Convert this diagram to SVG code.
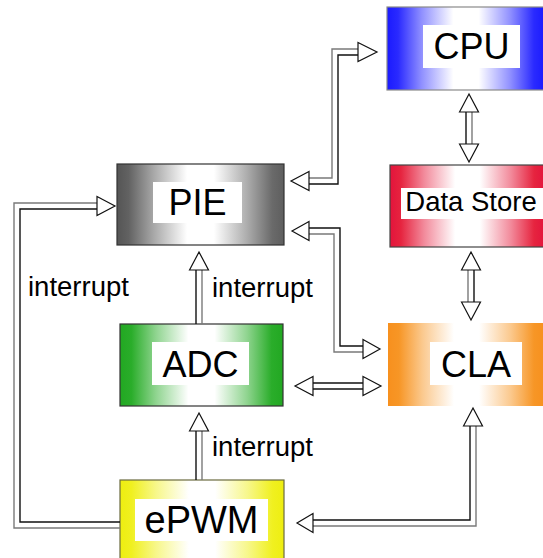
<svg xmlns="http://www.w3.org/2000/svg" width="543" height="558" viewBox="0 0 543 558">
  <style>
    .lbl { fill: #ffffff; }
    .txt { font-family: "Liberation Sans", Arial, sans-serif; fill: #000000; text-anchor: middle; }
    .big { font-size: 36px; }
    .note { font-family: "Liberation Sans", Arial, sans-serif; font-size: 27.5px; fill: #000000; }
    .ld { fill: none; stroke: #111111; stroke-width: 1.4; }
    .lg { fill: none; stroke: #7a7a7a; stroke-width: 1.4; }
    .head { fill: #ffffff; stroke: #111111; stroke-width: 1.2; stroke-linejoin: miter; }
  </style>
  <defs>
    <linearGradient id="gBlue" x1="0" y1="0" x2="1" y2="0">
      <stop offset="0" stop-color="#1a1aff"/>
      <stop offset="0.07" stop-color="#2a2aff"/>
      <stop offset="0.22" stop-color="#9090ff"/>
      <stop offset="0.42" stop-color="#ffffff"/>
      <stop offset="0.58" stop-color="#ffffff"/>
      <stop offset="0.78" stop-color="#9090ff"/>
      <stop offset="0.93" stop-color="#2a2aff"/>
      <stop offset="1" stop-color="#1a1aff"/>
    </linearGradient>
    <linearGradient id="gGray" x1="0" y1="0" x2="1" y2="0">
      <stop offset="0" stop-color="#555555"/>
      <stop offset="0.07" stop-color="#626262"/>
      <stop offset="0.22" stop-color="#a8a8a8"/>
      <stop offset="0.42" stop-color="#ffffff"/>
      <stop offset="0.58" stop-color="#ffffff"/>
      <stop offset="0.78" stop-color="#acacac"/>
      <stop offset="0.93" stop-color="#6a6a6a"/>
      <stop offset="1" stop-color="#5e5e5e"/>
    </linearGradient>
    <linearGradient id="gRed" x1="0" y1="0" x2="1" y2="0">
      <stop offset="0" stop-color="#e3143c"/>
      <stop offset="0.07" stop-color="#e6243f"/>
      <stop offset="0.22" stop-color="#f28a9b"/>
      <stop offset="0.42" stop-color="#ffffff"/>
      <stop offset="0.58" stop-color="#ffffff"/>
      <stop offset="0.78" stop-color="#f28a9b"/>
      <stop offset="0.93" stop-color="#e6243f"/>
      <stop offset="1" stop-color="#e3143c"/>
    </linearGradient>
    <linearGradient id="gGreen" x1="0" y1="0" x2="1" y2="0">
      <stop offset="0" stop-color="#22a822"/>
      <stop offset="0.07" stop-color="#2aad2a"/>
      <stop offset="0.22" stop-color="#8fd48f"/>
      <stop offset="0.42" stop-color="#ffffff"/>
      <stop offset="0.58" stop-color="#ffffff"/>
      <stop offset="0.78" stop-color="#8fd48f"/>
      <stop offset="0.93" stop-color="#2aad2a"/>
      <stop offset="1" stop-color="#22a822"/>
    </linearGradient>
    <linearGradient id="gOrange" x1="0" y1="0" x2="1" y2="0">
      <stop offset="0" stop-color="#f7901e"/>
      <stop offset="0.07" stop-color="#f79626"/>
      <stop offset="0.22" stop-color="#fbc98e"/>
      <stop offset="0.42" stop-color="#ffffff"/>
      <stop offset="0.58" stop-color="#ffffff"/>
      <stop offset="0.78" stop-color="#fbc98e"/>
      <stop offset="0.93" stop-color="#f79626"/>
      <stop offset="1" stop-color="#f7901e"/>
    </linearGradient>
    <linearGradient id="gYellow" x1="0" y1="0" x2="1" y2="0">
      <stop offset="0" stop-color="#eeee10"/>
      <stop offset="0.07" stop-color="#f0f020"/>
      <stop offset="0.22" stop-color="#f7f78a"/>
      <stop offset="0.42" stop-color="#ffffff"/>
      <stop offset="0.58" stop-color="#ffffff"/>
      <stop offset="0.78" stop-color="#f7f78a"/>
      <stop offset="0.93" stop-color="#f0f020"/>
      <stop offset="1" stop-color="#eeee10"/>
    </linearGradient>
  </defs>

  <rect width="543" height="558" fill="#ffffff"/>

  <!-- blocks -->
  <g id="cpu">
    <rect x="387" y="7" width="158" height="83" fill="url(#gBlue)" stroke="#8a8a8a" stroke-width="1.2"/>
    <rect class="lbl" x="423" y="25" width="97" height="43"/>
    <text class="txt big" x="471.5" y="59">CPU</text>
  </g>
  <g id="pie">
    <rect x="117" y="164" width="167" height="81" fill="url(#gGray)" stroke="#333333" stroke-width="1.2"/>
    <rect class="lbl" x="153" y="182" width="89" height="41"/>
    <text class="txt big" x="197.5" y="215">PIE</text>
  </g>
  <g id="data-store">
    <rect x="390" y="165" width="155" height="82" fill="url(#gRed)" stroke="#444444" stroke-width="1.2"/>
    <rect class="lbl" x="401" y="188" width="143" height="31"/>
    <text class="txt" x="471" y="211" font-size="27.5">Data Store</text>
  </g>
  <g id="adc">
    <rect x="120" y="324" width="163" height="82" fill="url(#gGreen)" stroke="#333333" stroke-width="1.2"/>
    <rect class="lbl" x="152" y="342" width="97" height="43"/>
    <text class="txt big" x="200.5" y="377">ADC</text>
  </g>
  <g id="cla">
    <rect x="388" y="323" width="157" height="83" fill="url(#gOrange)"/>
    <rect class="lbl" x="430" y="342" width="92" height="43"/>
    <text class="txt big" x="476" y="377">CLA</text>
  </g>
  <g id="epwm">
    <rect x="120" y="480" width="164" height="86" fill="url(#gYellow)" stroke="#6b6b40" stroke-width="1.2"/>
    <rect class="lbl" x="135" y="499" width="133" height="42"/>
    <text class="txt" x="201.5" y="533" font-size="38">ePWM</text>
  </g>

  <!-- double-line connectors with open arrowheads -->
  <g id="connectors">
    <!-- CPU <-> PIE -->
    <polyline class="lg" points="309,178 332,178 332,49 358,49"/>
    <polyline class="ld" points="309,184 338,184 338,55 358,55"/>
    <polygon class="head" points="358,42.5 377,52 358,61.5"/>
    <polygon class="head" points="309,171.5 291,181 309,190.5"/>

    <!-- PIE <-> CLA -->
    <polyline class="ld" points="309,228 340,228 340,346 363,346"/>
    <polyline class="lg" points="309,234 334,234 334,352 363,352"/>
    <polygon class="head" points="309,221.5 292,231 309,240.5"/>
    <polygon class="head" points="363,339.5 380,349 363,358.5"/>

    <!-- ADC <-> CLA -->
    <line class="ld" x1="313" y1="383" x2="363" y2="383"/>
    <line class="ld" x1="313" y1="389" x2="363" y2="389"/>
    <polygon class="head" points="313,376.5 295,386 313,395.5"/>
    <polygon class="head" points="363,376.5 381,386 363,395.5"/>

    <!-- ePWM -> PIE (interrupt) -->
    <polyline class="lg" points="120,528 14,528 14,203 97,203"/>
    <polyline class="ld" points="120,522 20,522 20,209 97,209"/>
    <polygon class="head" points="97,196.5 115,206 97,215.5"/>

    <!-- ADC -> PIE (interrupt) -->
    <line class="ld" x1="196" y1="324" x2="196" y2="270"/>
    <line class="lg" x1="202" y1="324" x2="202" y2="270"/>
    <polygon class="head" points="189.5,270 199,252 208.5,270"/>

    <!-- ePWM -> ADC (interrupt) -->
    <line class="ld" x1="196" y1="480" x2="196" y2="431"/>
    <line class="lg" x1="202" y1="480" x2="202" y2="431"/>
    <polygon class="head" points="189.5,431 199,413 208.5,431"/>

    <!-- CPU <-> Data Store -->
    <line class="ld" x1="466" y1="112" x2="466" y2="144"/>
    <line class="lg" x1="472" y1="112" x2="472" y2="144"/>
    <polygon class="head" points="459.5,112 469,94 478.5,112"/>
    <polygon class="head" points="459.5,144 469,162 478.5,144"/>

    <!-- Data Store <-> CLA -->
    <line class="lg" x1="468" y1="270" x2="468" y2="302"/>
    <line class="ld" x1="474" y1="270" x2="474" y2="302"/>
    <polygon class="head" points="461.5,270 471,252 480.5,270"/>
    <polygon class="head" points="461.5,302 471,320 480.5,302"/>

    <!-- ePWM -> CLA -->
    <polyline class="ld" points="313,520 470,520 470,426"/>
    <polyline class="lg" points="313,526 476,526 476,426"/>
    <polygon class="head" points="463.5,426 473,408 482.5,426"/>
    <polygon class="head" points="313,513.5 297,523 313,532.5"/>
  </g>

  <!-- edge labels -->
  <text class="note" x="28" y="296">interrupt</text>
  <text class="note" x="212" y="297">interrupt</text>
  <text class="note" x="212" y="456">interrupt</text>
</svg>
